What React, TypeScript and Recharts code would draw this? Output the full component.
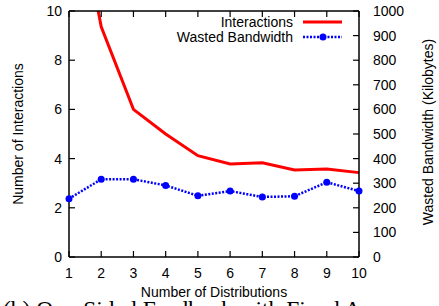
import React from "react";
import { LineChart, Line, XAxis, YAxis, Legend, Label } from "recharts";

const distributions = [1, 2, 3, 4, 5, 6, 7, 8, 9, 10];
const interactions = [16.2, 9.36, 6.0, 5.0, 4.12, 3.78, 3.83, 3.54, 3.58, 3.43];
const wastedBandwidth = [237, 316, 316, 291, 249, 268, 244, 247, 304, 268];

const xTicks = [1, 2, 3, 4, 5, 6, 7, 8, 9, 10];
const leftTicks = [0, 2, 4, 6, 8, 10];
const rightTicks = [0, 100, 200, 300, 400, 500, 600, 700, 800, 900, 1000];

const data = distributions.map((d, i) => ({
  dist: d,
  interactions: interactions[i],
  wasted: wastedBandwidth[i],
}));

const FONT = '"Liberation Sans", Arial, Helvetica, sans-serif';
const TICK = 6;

const BottomTick = ({ x, y, payload }: any) => (
  <g>
    <line x1={x} x2={x} y1={y} y2={y - TICK} stroke="#000" strokeWidth={1.2} />
    <text x={x} y={y + 16} textAnchor="middle" dominantBaseline="central" fontSize={14} fontFamily={FONT} fill="#000">
      {payload.value}
    </text>
  </g>
);

const TopTick = ({ x, y }: any) => (
  <line x1={x} x2={x} y1={y} y2={y + TICK} stroke="#000" strokeWidth={1.2} />
);

const LeftTick = ({ x, y, payload }: any) => (
  <g>
    <line x1={x} x2={x + TICK} y1={y} y2={y} stroke="#000" strokeWidth={1.2} />
    <text x={x - 7} y={y} textAnchor="end" dominantBaseline="central" fontSize={14} fontFamily={FONT} fill="#000">
      {payload.value}
    </text>
  </g>
);

const RightTick = ({ x, y, payload }: any) => (
  <g>
    <line x1={x} x2={x - TICK} y1={y} y2={y} stroke="#000" strokeWidth={1.2} />
    <text x={x + 14} y={y} textAnchor="start" dominantBaseline="central" fontSize={14} fontFamily={FONT} fill="#000">
      {payload.value}
    </text>
  </g>
);

const LegendBox = ({ payload }: any) => (
  <svg width={210} height={32}>
    {(payload || []).map((p: any, i: number) => {
      const y = 8 + i * 15;
      const dotted = p.dataKey === "wasted";
      return (
        <g key={p.value}>
          <text x={153} y={y} textAnchor="end" dominantBaseline="central" fontSize={14} fontFamily={FONT} fill="#000">
            {p.value}
          </text>
          <line
            x1={163}
            x2={202}
            y1={y}
            y2={y}
            stroke={p.color}
            strokeWidth={dotted ? 2.5 : 3}
            strokeDasharray={dotted ? "2 1.5" : undefined}
          />
          {dotted && <circle cx={183} cy={y} r={3.5} fill={p.color} />}
        </g>
      );
    })}
  </svg>
);

export default function App() {
  return (
    <div style={{ position: "fixed", left: 0, top: 0, width: 439, height: 306, overflow: "hidden", background: "#fff" }}>
      <LineChart width={439} height={306} data={data} margin={{ top: 0, right: 0, bottom: 0, left: 0 }}>
        <XAxis
          xAxisId="bottom"
          dataKey="dist"
          type="number"
          domain={[1, 10]}
          ticks={xTicks}
          height={49}
          tickSize={0}
          tickMargin={0}
          tickLine={false}
          axisLine={{ stroke: "#000", strokeWidth: 1.5 }}
          tick={<BottomTick />}
        >
          <Label
            content={() => (
              <text x={214} y={292} textAnchor="middle" dominantBaseline="central" fontSize={14} fontFamily={FONT} fill="#000">
                Number of Distributions
              </text>
            )}
          />
        </XAxis>
        <XAxis
          xAxisId="top"
          dataKey="dist"
          type="number"
          orientation="top"
          domain={[1, 10]}
          ticks={xTicks}
          height={11}
          tickSize={0}
          tickMargin={0}
          tickLine={false}
          axisLine={{ stroke: "#000", strokeWidth: 1.5 }}
          tick={<TopTick />}
        />
        <YAxis
          yAxisId="left"
          type="number"
          domain={[0, 10]}
          allowDataOverflow
          ticks={leftTicks}
          width={69}
          tickSize={0}
          tickMargin={0}
          tickLine={false}
          axisLine={{ stroke: "#000", strokeWidth: 1.5 }}
          tick={<LeftTick />}
        >
          <Label
            content={() => (
              <text x={18} y={134} transform="rotate(-90 18 134)" textAnchor="middle" dominantBaseline="central" fontSize={14} fontFamily={FONT} fill="#000">
                Number of Interactions
              </text>
            )}
          />
        </YAxis>
        <YAxis
          yAxisId="right"
          orientation="right"
          type="number"
          domain={[0, 1000]}
          allowDataOverflow
          ticks={rightTicks}
          width={80}
          tickSize={0}
          tickMargin={0}
          tickLine={false}
          axisLine={{ stroke: "#000", strokeWidth: 1.5 }}
          tick={<RightTick />}
        >
          <Label
            content={() => (
              <text x={428} y={132} transform="rotate(-90 428 132)" textAnchor="middle" dominantBaseline="central" fontSize={14} fontFamily={FONT} fill="#000">
                Wasted Bandwidth (Kilobytes)
              </text>
            )}
          />
        </YAxis>
        <Legend
          layout="horizontal"
          verticalAlign="middle"
          content={<LegendBox />}
          wrapperStyle={{ position: "absolute", left: 140, top: 14, width: 210 }}
        />
        <Line
          xAxisId="bottom"
          yAxisId="left"
          type="linear"
          dataKey="interactions"
          name="Interactions"
          stroke="#ff0000"
          strokeWidth={3}
          dot={false}
          activeDot={false}
          isAnimationActive={false}
        />
        <Line
          xAxisId="bottom"
          yAxisId="right"
          type="linear"
          dataKey="wasted"
          name="Wasted Bandwidth"
          stroke="#0000ff"
          strokeWidth={2.5}
          strokeDasharray="2 1.5"
          dot={{ r: 3.5, fill: "#0000ff", stroke: "none", strokeDasharray: "" }}
          activeDot={false}
          isAnimationActive={false}
        />
      </LineChart>
      <div
        style={{
          position: "absolute",
          left: 3,
          top: 298,
          fontFamily: '"Liberation Serif", "Times New Roman", serif',
          fontSize: 23.5,
          lineHeight: "23px",
          whiteSpace: "nowrap",
          color: "#000",
        }}
      >
        (b) One-Sided Feedback with Fixed Arrays
      </div>
    </div>
  );
}
